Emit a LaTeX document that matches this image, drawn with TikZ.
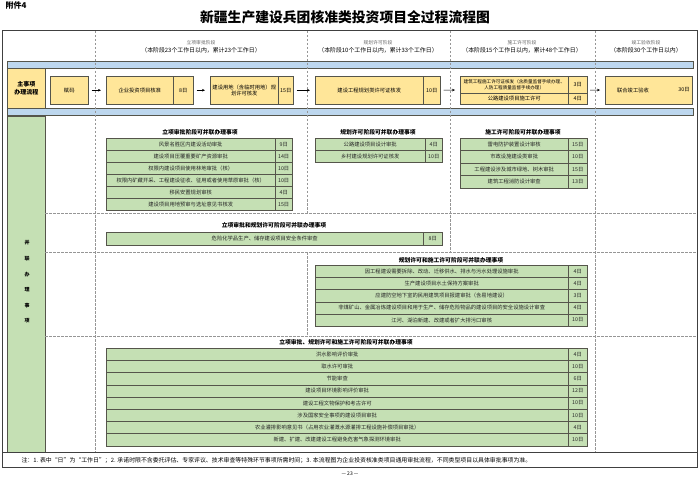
\documentclass[tikz,border=0pt]{standalone}
\usepackage{fontspec}
\setmainfont{Noto Sans CJK SC}
\usetikzlibrary{arrows.meta}
\definecolor{ylw}{RGB}{255,230,153}
\definecolor{grn}{RGB}{197,224,180}
\definecolor{blu}{RGB}{189,215,238}
\definecolor{bdr}{RGB}{85,85,75}
\definecolor{dsh}{RGB}{150,150,150}
\newcommand\gtable[7]{%
 \foreach \txt/\dy [count=\i from 0] in {#7}{%
   \node[gcell, minimum width={#3-#2}, minimum height=#6] (#1\i) at (#2,{#5+#6*\i}) {\txt};
   \node[gcell, minimum width={#4-#3}, minimum height=#6] (#1d\i) at (#3,{#5+#6*\i}) {\dy};
 }}
\begin{document}
\begin{tikzpicture}[x=1pt,y=-1pt,
  font=\fontsize{5.3}{6.3}\selectfont,
  ybox/.style={draw=bdr, fill=ylw, line width=0.5pt, inner sep=0pt, anchor=north west, align=center},
  gcell/.style={draw=bdr, fill=grn, line width=0.4pt, inner sep=0pt, anchor=north west, text=black!85},
  bbar/.style={draw=bdr, fill=blu, line width=0.4pt},
  sep/.style={draw=dsh, dash pattern=on 2.5pt off 1.5pt, line width=0.4pt},
  flow/.style={-{Stealth[length=3pt,width=2.6pt]}, line width=0.5pt, black, shorten <=3pt, shorten >=5pt},
  sechead/.style={font=\fontsize{5.8}{7}\selectfont\bfseries},
  phase/.style={align=center, font=\fontsize{5.9}{8}\selectfont}
]
\useasboundingbox (0,0) rectangle (700,478);
\fill[white] (0,0) rectangle (700,478);

% title
\node[anchor=west, font=\fontsize{8}{9}\selectfont\bfseries] (fj) at (2,5) {附件4};
\node[font=\fontsize{13.8}{16}\selectfont\bfseries] (title) at (345,17) {新疆生产建设兵团核准类投资项目全过程流程图};

% bars and columns
\draw[bbar] (7,61) rectangle (693,68);
\draw[bbar] (7,108) rectangle (693,115);
\node[ybox, minimum width=38, minimum height=40, font=\fontsize{6}{8}\selectfont\bfseries] (lab) at (7,68) {主事项\\办理流程};
\draw[draw=bdr, fill=grn, line width=0.5pt] (7,116) rectangle (45,452);
\node[font=\fontsize{5}{15.6}\selectfont\bfseries, align=center] (bl) at (27,282) {并\\联\\办\\理\\事\\项};

% dashed separators
\draw[sep] (95,31) -- (95,452);
\draw[sep] (307,31) -- (307,213);
\draw[sep] (307,252) -- (307,336);
\draw[sep] (450,31) -- (450,252);
\draw[sep] (595,31) -- (595,452);
\draw[sep] (45,213) -- (697,213);
\draw[sep] (45,252) -- (697,252);
\draw[sep] (45,336) -- (697,336);

% frame
\draw[line width=1pt, black!75] (2,31) rectangle (697,467);
\draw[line width=0.6pt, black!75] (2,452) -- (697,452);

% phase headers
\node[phase] (p1) at (201,47) {{\fontsize{4.8}{8}\selectfont\color{black!60}立项审批阶段}\\（本阶段23个工作日以内，累计23个工作日）};
\node[phase] (p2) at (378,47) {{\fontsize{4.8}{8}\selectfont\color{black!60}规划许可阶段}\\（本阶段10个工作日以内，累计33个工作日）};
\node[phase] (p3) at (522,47) {{\fontsize{4.8}{8}\selectfont\color{black!60}施工许可阶段}\\（本阶段15个工作日以内，累计48个工作日）};
\node[phase] (p4) at (646,47) {{\fontsize{4.8}{8}\selectfont\color{black!60}竣工验收阶段}\\（本阶段30个工作日以内）};

% main flow
\node[ybox, minimum width=38, minimum height=28] (m0) at (50,76) {赋码};
\node[ybox, minimum width=67, minimum height=28] (m1) at (106,76) {企业投资项目核准};
\node[ybox, minimum width=20, minimum height=28] (m1d) at (173,76) {8日};
\node[ybox, minimum width=68, minimum height=28] (m2) at (210,76) {建设用地（含临时用地）规\\划许可核发};
\node[ybox, minimum width=15, minimum height=28] (m2d) at (278,76) {15日};
\node[ybox, minimum width=108, minimum height=28] (m3) at (315,76) {建设工程规划类许可证核发};
\node[ybox, minimum width=17, minimum height=28] (m3d) at (423,76) {10日};
\node[ybox, minimum width=108, minimum height=17, font=\fontsize{4.6}{5.6}\selectfont] (m4a) at (460,76) {建筑工程施工许可证核发（含质量监督手续办理、\\人防工程质量监督手续办理）};
\node[ybox, minimum width=19, minimum height=17] (m4ad) at (568,76) {3日};
\node[ybox, minimum width=108, minimum height=11] (m4b) at (460,93) {公路建设项目施工许可};
\node[ybox, minimum width=19, minimum height=11] (m4bd) at (568,93) {4日};
\node[ybox, minimum width=87, minimum height=28] (m5) at (605,76) {};
\node (m5t) at (633,90) {联合竣工验收};
\node (m5d) at (684,90) {30日};
\coordinate (m4w) at (460,90);
\coordinate (m4e) at (587,90);
\draw[flow] (m0) -- (m1);
\draw[flow] (m1d) -- (m2);
\draw[flow] (m2d) -- (m3);
\draw[flow] (m3d) -- (m4w);
\draw[flow] (m4e) -- (m5);

% section A
\node[sechead] (ha) at (200,132) {立项审批阶段可并联办理事项};
\gtable{a}{106}{275}{292}{138}{12}{风景名胜区内建设活动审批/9日, 建设项目压覆重要矿产资源审批/14日, 权限内建设项目使用林地审批（核）/10日, 权限内矿藏开采、工程建设征收、征用或者使用草原审批（核）/10日, 移民安置规划审核/4日, 建设项目用地预审与选址意见书核发/15日}
\node[sechead] (hb) at (378,132) {规划许可阶段可并联办理事项};
\gtable{b}{315}{425}{442}{138}{12}{公路建设项目设计审批/4日, 乡村建设规划许可证核发/10日}
\node[sechead] (hc) at (523,132) {施工许可阶段可并联办理事项};
\gtable{c}{460}{568}{587}{138}{12.5}{雷电防护装置设计审核/15日, 市政设施建设类审批/10日, 工程建设涉及城市绿地、树木审批/15日, 建筑工程消防设计审查/13日}

% section B
\node[sechead] (he) at (274,225) {立项审批和规划许可阶段可并联办理事项};
\gtable{e}{106}{423}{442}{232}{13}{危险化学品生产、储存建设项目安全条件审查/8日}

% section C
\node[sechead] (hf) at (451,260) {规划许可和施工许可阶段可并联办理事项};
\gtable{f}{315}{568}{587}{265}{12.2}{因工程建设需要拆除、改动、迁移供水、排水与污水处理设施审批/4日, 生产建设项目水土保持方案审批/4日, 应建防空地下室的民用建筑项目报建审批（含易地建设）/3日, 非煤矿山、金属冶炼建设项目和用于生产、储存危险物品的建设项目的安全设施设计审查/4日, 江河、湖泊新建、改建或者扩大排污口审核/10日}

% section D
\node[sechead] (hg) at (346,342) {立项审批、规划许可和施工许可阶段可并联办理事项};
\gtable{g}{106}{568}{587}{348}{12.2}{洪水影响评价审批/4日, 取水许可审批/10日, 节能审查/6日, 建设项目环境影响评价审批/12日, 建设工程文物保护和考古许可/10日, 涉及国家安全事项的建设项目审批/10日, 农业灌排影响意见书（占用农业灌溉水源灌排工程设施补偿项目审批）/4日, 新建、扩建、改建建设工程避免危害气象探测环境审批/10日}

% note
\node[anchor=west, font=\fontsize{5.9}{7}\selectfont] (note) at (18,460) {注：1. 表中“日”为“工作日”；2. 承诺时限不含委托评估、专家评议、技术审查等特殊环节事项所需时间；3. 本流程图为企业投资核准类项目通用审批流程，不同类型项目以具体审批事项为准。};
\node[font=\fontsize{5}{6}\selectfont] (pg) at (350,474) {— 23 —};
\end{tikzpicture}
\end{document}
